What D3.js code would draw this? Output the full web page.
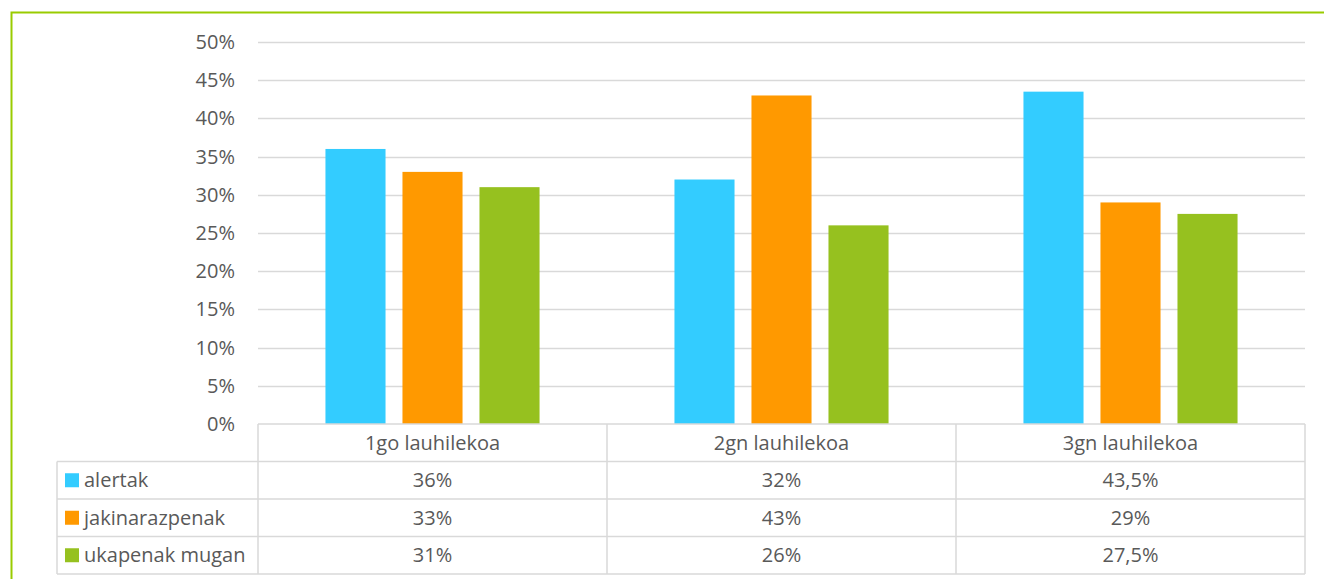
<!DOCTYPE html>
<html>
<head>
<meta charset="utf-8">
<script src="https://cdn.jsdelivr.net/npm/d3@7"></script>
<style>
  body { margin: 0; background: #fff; }
  text { font-family: "Open Sans", "Liberation Sans", sans-serif; fill: #595959; }
</style>
</head>
<body>
<script>
// data
var categories = ["1go lauhilekoa", "2gn lauhilekoa", "3gn lauhilekoa"];
var seriesNames = ["alertak", "jakinarazpenak", "ukapenak mugan"];
var seriesColors = ["#33ccff", "#ff9900", "#96c11f"];
var alertak = [36, 32, 43.5];
var jakinarazpenak = [33, 43, 29];
var ukapenak = [31, 26, 27.5];
var yTicks = [0, 5, 10, 15, 20, 25, 30, 35, 40, 45, 50];

var series = [alertak, jakinarazpenak, ukapenak];

var width = 1324, height = 579;
var fontSize = "20px";

var svg = d3.select("body")
    .append("svg")
    .attr("width", width)
    .attr("height", height);

// green frame
svg.append("path")
    .attr("d", "M11.5,579 L11.5,12.5 L1324,12.5")
    .attr("fill", "none")
    .attr("stroke", "#99cc00")
    .attr("stroke-width", 2);

var plot = { left: 258, right: 1305, top: 42, bottom: 424 };

var x = d3.scaleBand()
    .domain(categories)
    .range([plot.left, plot.right]);

var xs = d3.scaleBand()
    .domain(d3.range(series.length))
    .range([0, x.bandwidth()])
    .paddingInner(0.22)
    .paddingOuter(0.876);

var y = d3.scaleLinear()
    .domain([0, 50])
    .range([plot.bottom, plot.top]);

// gridlines
svg.append("g")
    .selectAll("line")
    .data(yTicks.filter(function(d) { return d > 0; }))
    .enter()
    .append("line")
    .attr("x1", plot.left)
    .attr("x2", plot.right)
    .attr("y1", function(d) { return Math.round(y(d)) + 0.5; })
    .attr("y2", function(d) { return Math.round(y(d)) + 0.5; })
    .attr("stroke", "#d9d9d9")
    .attr("stroke-width", 1.5);

// y axis labels
svg.append("g")
    .selectAll("text")
    .data(yTicks)
    .enter()
    .append("text")
    .attr("x", 235)
    .attr("y", function(d) { return y(d); })
    .attr("dy", "0.35em")
    .attr("text-anchor", "end")
    .style("font-size", fontSize)
    .text(function(d) { return d + "%"; });

// bars
series.forEach(function(vals, si) {
    svg.append("g")
        .selectAll("rect")
        .data(vals)
        .enter()
        .append("rect")
        .attr("x", function(d, i) { return x(categories[i]) + xs(si); })
        .attr("width", xs.bandwidth())
        .attr("y", function(d) { return y(d); })
        .attr("height", function(d) { return y(0) - y(d); })
        .attr("fill", seriesColors[si]);
});

// data table
var rowH = 37.5;
var legendLeft = 57;
var tbl = svg.append("g");
var lineColor = "#d9d9d9";

function hline(x1, x2, yy) {
    tbl.append("line").attr("x1", x1).attr("x2", x2).attr("y1", yy).attr("y2", yy)
        .attr("stroke", lineColor).attr("stroke-width", 1.5);
}
function vline(xx, y1, y2) {
    tbl.append("line").attr("x1", xx).attr("x2", xx).attr("y1", y1).attr("y2", y2)
        .attr("stroke", lineColor).attr("stroke-width", 1.5);
}

var tTop = plot.bottom;
hline(plot.left, plot.right, tTop);
for (var r = 1; r <= series.length + 1; r++) {
    hline(legendLeft, plot.right, tTop + r * rowH);
}
vline(legendLeft, tTop + rowH, tTop + (series.length + 1) * rowH);
categories.forEach(function(c) {
    vline(x(c), tTop, tTop + (series.length + 1) * rowH);
});
vline(plot.right, tTop, tTop + (series.length + 1) * rowH);

// header labels
tbl.selectAll(".hdr")
    .data(categories)
    .enter()
    .append("text")
    .attr("class", "hdr")
    .attr("x", function(d) { return x(d) + x.bandwidth() / 2; })
    .attr("y", tTop + rowH / 2)
    .attr("dy", "0.35em")
    .attr("text-anchor", "middle")
    .style("font-size", fontSize)
    .text(function(d) { return d; });

// rows
series.forEach(function(vals, si) {
    var cy = tTop + (si + 1) * rowH + rowH / 2;
    tbl.append("rect")
        .attr("x", legendLeft + 8)
        .attr("y", cy - 7)
        .attr("width", 14)
        .attr("height", 14)
        .attr("fill", seriesColors[si]);
    tbl.append("text")
        .attr("x", legendLeft + 27)
        .attr("y", cy)
        .attr("dy", "0.35em")
        .style("font-size", fontSize)
        .text(seriesNames[si]);
    tbl.selectAll(".v" + si)
        .data(vals)
        .enter()
        .append("text")
        .attr("x", function(d, i) { return x(categories[i]) + x.bandwidth() / 2; })
        .attr("y", cy)
        .attr("dy", "0.35em")
        .attr("text-anchor", "middle")
        .style("font-size", fontSize)
        .text(function(d) { return String(d).replace(".", ",") + "%"; });
});
</script>
</body>
</html>
